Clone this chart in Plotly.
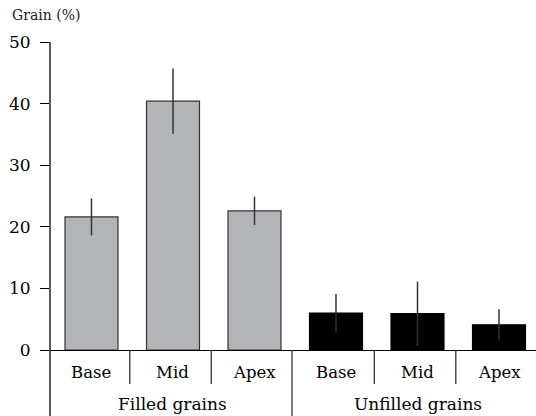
import plotly.graph_objects as go

categories = ["Base", "Mid", "Apex", "Base", "Mid", "Apex"]
groups = ["Filled grains", "Unfilled grains"]
values = [21.6, 40.4, 22.6, 6.0, 5.9, 4.1]
errors = [3.0, 5.3, 2.3, 3.1, 5.2, 2.5]
y_ticks = [0, 10, 20, 30, 40, 50]

FONT = "'DejaVu Serif', 'Liberation Serif', serif"
xpos = list(range(len(categories)))
colors = ["#b2b4b7"] * 3 + ["#000000"] * 3
line_colors = ["#333333"] * 3 + ["#000000"] * 3

fig = go.Figure()
fig.add_trace(go.Bar(
    x=xpos, y=values, width=0.65,
    marker=dict(color=colors, line=dict(color=line_colors, width=1.2)),
    error_y=dict(type="data", array=errors, visible=True, thickness=1.5, width=0, color="#333333"),
    showlegend=False,
))

H = 308.0
def py(px):  # pixel offset below axis -> paper y
    return -px / H

shapes = []
shapes.append(dict(type="line", xref="paper", yref="paper", x0=0, x1=0, y0=py(66), y1=1,
                   line=dict(color="#000", width=1.3)))
for b in [0.5, 1.5, 3.5, 4.5]:
    shapes.append(dict(type="line", xref="x", yref="paper", x0=b - 0.03, x1=b - 0.03, y0=0, y1=py(34),
                       line=dict(color="#333", width=1.3)))
shapes.append(dict(type="line", xref="x", yref="paper", x0=2.5 - 0.04, x1=2.5 - 0.04, y0=0, y1=py(66),
                   line=dict(color="#333", width=1.3)))

annotations = []
for i, c in enumerate(categories):
    annotations.append(dict(x=i, y=py(22), xref="x", yref="paper", text=c, showarrow=False,
                            font=dict(family=FONT, size=16.5, color="#000"), yanchor="middle"))
for gi, g in enumerate(groups):
    annotations.append(dict(x=1 + 3 * gi, y=py(54), xref="x", yref="paper", text=g, showarrow=False,
                            font=dict(family=FONT, size=17, color="#000"), yanchor="middle"))
annotations.append(dict(x=-40 / 486, y=(350 - 15) / H, xref="paper", yref="paper", text="Grain (%)",
                        showarrow=False, xanchor="left", yanchor="middle",
                        font=dict(family=FONT, size=14, color="#222")))

fig.update_layout(
    width=536, height=416,
    margin=dict(l=50, r=0, t=42, b=66, pad=0),
    plot_bgcolor="white", paper_bgcolor="white",
    xaxis=dict(range=[-0.509, 5.454], showticklabels=False, showgrid=False, zeroline=False,
               showline=True, linecolor="#000", linewidth=1.3, ticks=""),
    yaxis=dict(range=[0, 50], tickvals=y_ticks, showgrid=False, zeroline=False, showline=False,
               ticks="outside", ticklen=9, tickwidth=1.3, tickcolor="#000",
               tickfont=dict(family=FONT, size=17, color="#000"), ticklabelstandoff=6),
    shapes=shapes, annotations=annotations,
    bargap=0.3,
)

fig.write_html("out.html")
